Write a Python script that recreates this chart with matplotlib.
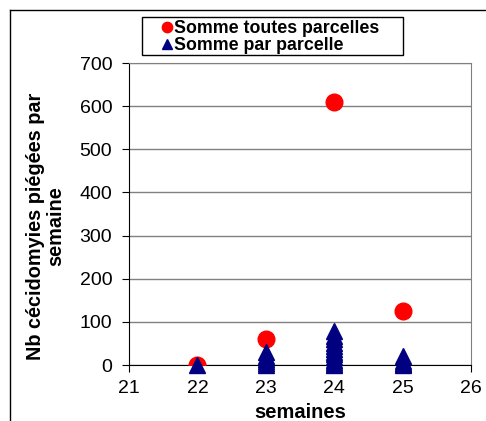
import matplotlib.pyplot as plt
from matplotlib.lines import Line2D
from matplotlib.patches import Rectangle

plt.rcParams['font.family'] = ['Liberation Sans', 'DejaVu Sans']

# total over all plots per week
weeks_total = [22, 23, 24, 25]
total = [0, 60, 610, 125]

# per-plot values per week
w22 = [0]
w23 = [0, 5, 10, 15, 20, 30]
w24 = [0, 3, 8, 12, 18, 25, 30, 38, 45, 52, 60, 68, 78]
w25 = [0, 2, 5, 10, 22]
per_plot = {22: w22, 23: w23, 24: w24, 25: w25}

fig = plt.figure(figsize=(4.86, 4.21), dpi=100)
ax = fig.add_axes([129 / 486, 1 - 365 / 421, 342 / 486, 302 / 421])

ax.plot(weeks_total, total, 'o', color='#FF0000', markersize=12,
        linestyle='none', label='Somme toutes parcelles', zorder=3)
xs, ys = [], []
for wk, vals in per_plot.items():
    xs += [wk] * len(vals)
    ys += vals
ax.plot(xs, ys, '^', color='#000080', markersize=12, linestyle='none',
        label='Somme par parcelle', zorder=4, clip_on=False)

ax.set_xlim(21, 26)
ax.set_ylim(0, 700)
ax.set_xticks(range(21, 27))
ax.set_yticks(range(0, 701, 100))
ax.yaxis.grid(True, color='#808080', linewidth=1)
ax.set_axisbelow(True)
ax.tick_params(direction='out', length=5, labelsize=14, colors='black')
ax.tick_params(axis='y', pad=7)
ax.tick_params(axis='x', pad=6)
for s in ['top', 'right']:
    ax.spines[s].set_color('#808080')
for s in ['left', 'bottom']:
    ax.spines[s].set_color('black')

ax.set_xlabel('semaines', fontsize=14.5, fontweight='bold', labelpad=4)
ax.set_ylabel('Nb cécidomyies piégées par\nsemaine', fontsize=14.3,
              fontweight='bold', linespacing=1.1)
ax.yaxis.set_label_coords(-0.185, 0.46)

leg = fig.legend(loc='upper left', bbox_to_anchor=(160 / 486, 1 - 20 / 421),
                 frameon=False, handlelength=0.8, handletextpad=0.0,
                 borderpad=0, labelspacing=0.0, markerscale=0.62,
                 borderaxespad=0, prop={'size': 12.8, 'weight': 'bold'})
fig.add_artist(Rectangle((142 / 486, 1 - 55 / 421), 261 / 486, 38 / 421,
                         transform=fig.transFigure, fill=False,
                         edgecolor='black', linewidth=1))

# outer chart frame
fig.add_artist(Line2D([10 / 486, 1], [1 - 10 / 421] * 2, color='black', lw=1))
fig.add_artist(Line2D([10 / 486] * 2, [0, 1 - 10 / 421], color='black', lw=1))

fig.savefig('out.png', dpi=100)
